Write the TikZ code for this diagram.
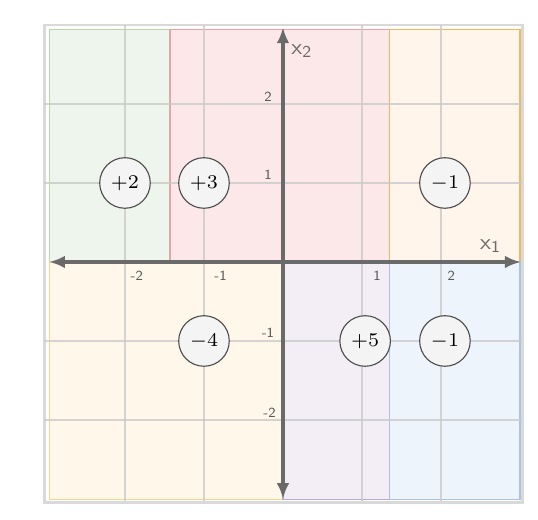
\documentclass[tikz,border=0pt]{standalone}
\usepackage{xcolor}
\usepackage{tikz}
\usetikzlibrary{arrows.meta,positioning,calc}
\definecolor{regiongreen}{HTML}{EEF5EC}
\definecolor{regiongreenline}{HTML}{B8D8A8}
\definecolor{regionred}{HTML}{FCE8E9}
\definecolor{regionredline}{HTML}{E8A3A3}
\definecolor{regionorange}{HTML}{FFF5EA}
\definecolor{regionorangeline}{HTML}{F2B560}
\definecolor{regionyellow}{HTML}{FFF8EA}
\definecolor{regionyellowline}{HTML}{F0D893}
\definecolor{regionpurple}{HTML}{F3EEF6}
\definecolor{regionpurpleline}{HTML}{BBA8D2}
\definecolor{regionblue}{HTML}{EEF4FC}
\definecolor{regionblueline}{HTML}{ABC2E2}
\definecolor{gridgray}{HTML}{CACACA}
\definecolor{axisgray}{HTML}{6A6A6A}
\definecolor{valuefill}{HTML}{F4F4F4}
\tikzset{
  region/.style={line width=0.4pt},
  gridline/.style={draw=gridgray, line width=0.7pt},
  axis/.style={{Latex[length=2mm,width=1.6mm]}-{Latex[length=2mm,width=1.6mm]}, draw=axisgray, line width=1.15pt},
  value/.style={circle, draw=black!70, fill=valuefill, minimum size=0.64cm, inner sep=0pt, font=\fontsize{7.5}{9}\selectfont},
  tick/.style={text=black!65, font=\sffamily\fontsize{5}{6}\selectfont, inner sep=0pt},
  axislabel/.style={text=axisgray, font=\sffamily\fontsize{8}{9}\selectfont, inner sep=0pt}
}

\begin{document}
\begin{tikzpicture}
  \useasboundingbox (-3.582,-3.266) rectangle (3.228,3.316);

  % outer frame
  \draw[black!15, line width=1pt] (-3.02,-3.04) rectangle (3.03,3.0);

  % regions
  \filldraw[region, fill=regiongreen, draw=regiongreenline] (-2.95,0) rectangle (-1.43,2.94);
  \filldraw[region, fill=regionred, draw=regionredline] (-1.43,0) rectangle (1.35,2.94);
  \filldraw[region, fill=regionorange, draw=regionorangeline] (1.35,0) rectangle (3.0,2.94);
  \filldraw[region, fill=regionyellow, draw=regionyellowline] (-2.95,-3.01) rectangle (0,0);
  \filldraw[region, fill=regionpurple, draw=regionpurpleline] (0,-3.01) rectangle (1.35,0);
  \filldraw[region, fill=regionblue, draw=regionblueline] (1.35,-3.01) rectangle (3.0,0);

  % grid
  \foreach \k in {-2,-1,1,2} {
    \draw[gridline, opacity=0.8] (\k,-3.02) -- (\k,3.0);
    \draw[gridline, opacity=0.8] (-3.02,\k) -- (3.03,\k);
  }

  % axes
  \coordinate (xmin) at (-2.96,0);
  \coordinate (xmax) at (3.01,0);
  \coordinate (ymin) at (0,-3.0);
  \coordinate (ymax) at (0,2.97);
  \draw[axis] (xmin) -- (xmax);
  \draw[axis] (ymin) -- (ymax);
  \node[axislabel] (xlabel) at (2.63,0.2) {x\textsubscript{1}};
  \node[axislabel] (ylabel) at (0.24,2.67) {x\textsubscript{2}};

  % ticks
  \node[tick] (tickxa) at (-1.85,-0.18) {-2};
  \node[tick] (tickxb) at (-0.79,-0.18) {-1};
  \node[tick] (tickxc) at (1.19,-0.18) {1};
  \node[tick] (tickxd) at (2.13,-0.18) {2};
  \node[tick] (tickya) at (-0.19,2.09) {2};
  \node[tick] (tickyb) at (-0.19,1.1) {1};
  \node[tick] (tickyc) at (-0.19,-0.9) {-1};
  \node[tick] (tickyd) at (-0.17,-1.91) {-2};

  % region values
  \node[value] (green) at (-2.0,1.0) {$+2$};
  \node[value] (red) at (-1.0,1.0) {$+3$};
  \node[value] (orange) at (2.05,1.0) {$-1$};
  \node[value] (yellow) at (-1.0,-1.0) {$-4$};
  \node[value] (purple) at (1.04,-1.0) {$+5$};
  \node[value] (blue) at (2.05,-1.0) {$-1$};
\end{tikzpicture}
\end{document}
